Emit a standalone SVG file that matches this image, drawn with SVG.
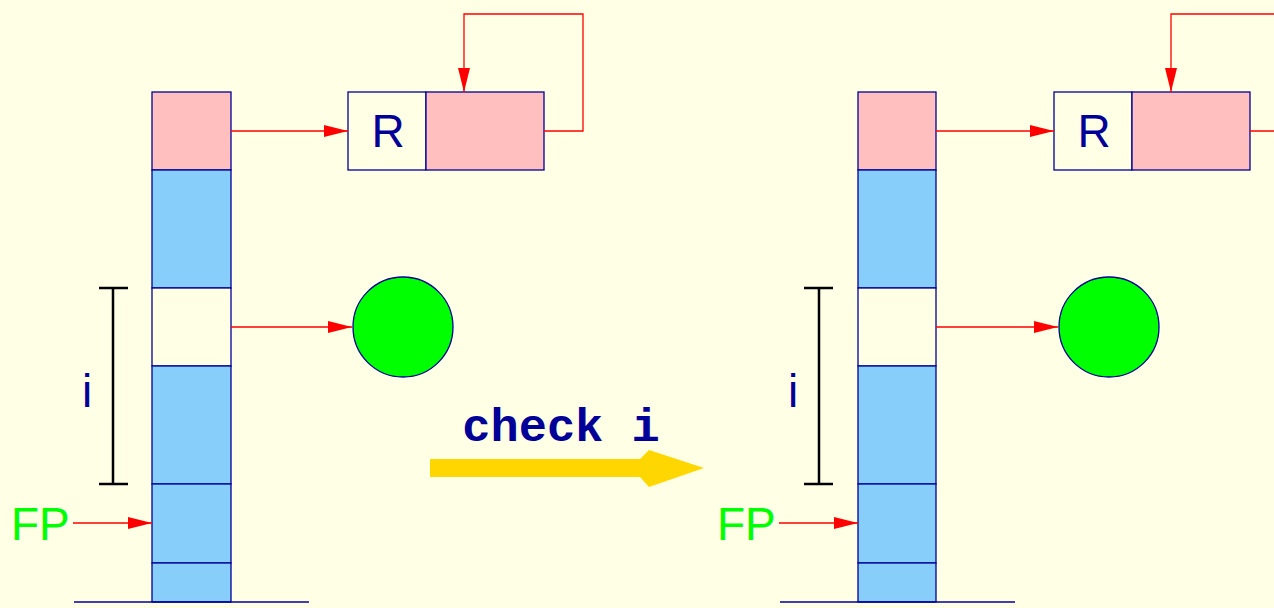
<svg xmlns="http://www.w3.org/2000/svg" width="1274" height="608" viewBox="0 0 1274 608">
<defs>
<marker id="ah" markerWidth="24" markerHeight="12" refX="24" refY="6" orient="auto" markerUnits="userSpaceOnUse">
<path d="M0,0 L24,6 L0,12 Z" fill="#ff0000"/>
</marker>
<style>
.pink{fill:#ffbfbf;stroke:#000099;stroke-width:1.3}
.blue{fill:#87cefa;stroke:#000099;stroke-width:1.3}
.white{fill:#ffffe6;stroke:#000099;stroke-width:1.3}
.link{fill:none;stroke:#ff0000;stroke-width:1.3}
.base{stroke:#000099;stroke-width:1.5}
.brk{stroke:#000000;stroke-width:2.5;fill:none}
.lbl{font-family:"Liberation Sans",Arial,sans-serif;fill:#000099}
.fp{font-family:"Liberation Sans",Arial,sans-serif;fill:#00ff00}
.ball{fill:#00ff00;stroke:#000099;stroke-width:1.3}
</style>
</defs>
<rect width="1274" height="608" fill="#ffffe6"/>

<g id="left-stack">
<rect class="pink" x="152" y="92" width="79" height="78"/>
<rect class="blue" x="152" y="170" width="79" height="118"/>
<rect class="white" x="152" y="288" width="79" height="78"/>
<rect class="blue" x="152" y="366" width="79" height="118"/>
<rect class="blue" x="152" y="484" width="79" height="79"/>
<rect class="blue" x="152" y="563" width="79" height="39"/>
<line class="base" x1="74" y1="602" x2="309" y2="602"/>
</g>
<g id="left-record">
<rect class="white" x="348" y="92" width="78" height="78"/>
<rect class="pink" x="426" y="92" width="118" height="78"/>
<text class="lbl" x="388" y="147" font-size="46" text-anchor="middle">R</text>
</g>
<g id="left-ball"><circle class="ball" cx="403" cy="327" r="50"/></g>
<g id="left-bracket">
<path class="brk" d="M99,288 H128 M113,288 V484 M99,484 H128"/>
<text class="lbl" x="87" y="407" font-size="46" text-anchor="middle">i</text>
</g>
<g id="left-fp"><text class="fp" x="11" y="540" font-size="46">FP</text></g>

<g id="right-stack">
<rect class="pink" x="858" y="92" width="78" height="78"/>
<rect class="blue" x="858" y="170" width="78" height="118"/>
<rect class="white" x="858" y="288" width="78" height="78"/>
<rect class="blue" x="858" y="366" width="78" height="118"/>
<rect class="blue" x="858" y="484" width="78" height="79"/>
<rect class="blue" x="858" y="563" width="78" height="39"/>
<line class="base" x1="780" y1="602" x2="1015" y2="602"/>
</g>
<g id="right-record">
<rect class="white" x="1054" y="92" width="78" height="78"/>
<rect class="pink" x="1132" y="92" width="118" height="78"/>
<text class="lbl" x="1094" y="147" font-size="46" text-anchor="middle">R</text>
</g>
<g id="right-ball"><circle class="ball" cx="1109" cy="327" r="50"/></g>
<g id="right-bracket">
<path class="brk" d="M804,288 H833 M819,288 V484 M804,484 H833"/>
<text class="lbl" x="793" y="407" font-size="46" text-anchor="middle">i</text>
</g>
<g id="right-fp"><text class="fp" x="717" y="540" font-size="46">FP</text></g>

<g id="transition">
<text x="561" y="441" font-family="'Liberation Mono','Courier New',monospace" font-weight="bold" font-size="47" fill="#000099" text-anchor="middle">check i</text>
<path d="M430,459 H640 L649,450 L704,468 L649,487 L640,477 H430 Z" fill="#ffd700"/>
</g>

<g id="connectors">
<line class="link" x1="231" y1="131" x2="348" y2="131" marker-end="url(#ah)"/>
<path class="link" d="M544,131 H583 V14 H464 V92" marker-end="url(#ah)"/>
<line class="link" x1="231" y1="327" x2="352" y2="327" marker-end="url(#ah)"/>
<line class="link" x1="73" y1="523" x2="152" y2="523" marker-end="url(#ah)"/>
<line class="link" x1="936" y1="131" x2="1054" y2="131" marker-end="url(#ah)"/>
<path class="link" d="M1250,131 H1289 V14 H1171 V92" marker-end="url(#ah)"/>
<line class="link" x1="936" y1="327" x2="1058" y2="327" marker-end="url(#ah)"/>
<line class="link" x1="779" y1="523" x2="858" y2="523" marker-end="url(#ah)"/>
</g>
</svg>
